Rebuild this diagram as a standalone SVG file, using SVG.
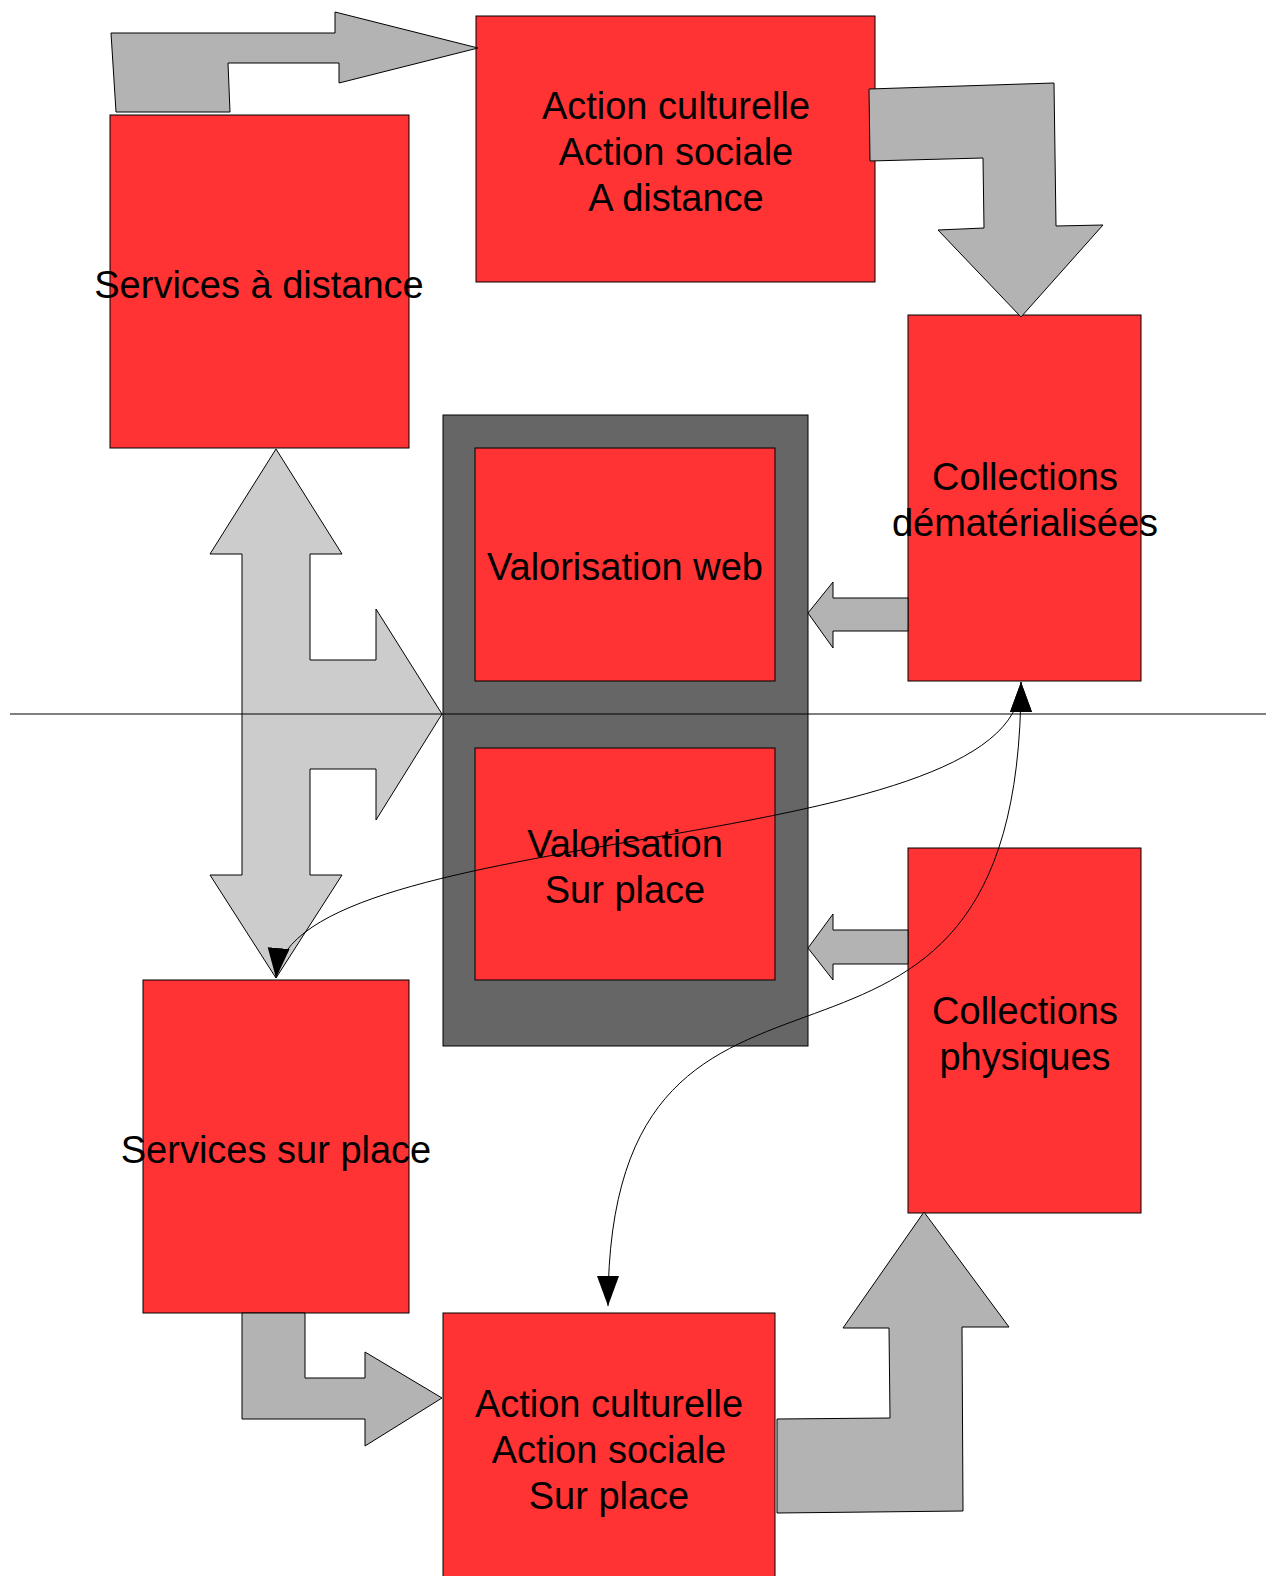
<svg xmlns="http://www.w3.org/2000/svg" width="1266" height="1576" viewBox="0 0 1266 1576">
<style>
.box{fill:#ff3333;stroke:#000;stroke-width:1}
.frame{fill:#666666;stroke:#000;stroke-width:1}
.blk{fill:#b3b3b3;stroke:#000;stroke-width:1;stroke-linejoin:miter}
.blk2{fill:#cccccc;stroke:#000;stroke-width:1}
.lbl{font-family:"Liberation Sans",Arial,sans-serif;font-size:38px;fill:#000;text-anchor:middle}
.curve{fill:none;stroke:#000;stroke-width:1}
</style>
<defs>
<marker id="ah" markerUnits="userSpaceOnUse" markerWidth="32" markerHeight="24" refX="30" refY="11" orient="auto-start-reverse" viewBox="0 0 32 24">
<path d="M0,0 L30,11 L0,22 z" fill="#000"/>
</marker>
</defs>
<rect width="1266" height="1576" fill="#fff"/>

<g id="node-valorisation-frame">
<rect class="frame" x="443" y="415" width="365" height="631"/>
</g>
<g id="node-valorisation-web">
<rect class="box" x="475" y="448" width="300" height="233"/>
<text class="lbl" x="625" y="580">Valorisation web</text>
</g>
<g id="node-valorisation-sur-place">
<rect class="box" x="475" y="748" width="300" height="232"/>
<text class="lbl" x="625" y="857">Valorisation</text>
<text class="lbl" x="625" y="903">Sur place</text>
</g>
<g id="node-services-distance">
<rect class="box" x="110" y="115" width="299" height="333"/>
<text class="lbl" x="259" y="298">Services à distance</text>
</g>
<g id="node-action-distance">
<rect class="box" x="476" y="16" width="399" height="266"/>
<text class="lbl" x="676" y="119">Action culturelle</text>
<text class="lbl" x="676" y="165">Action sociale</text>
<text class="lbl" x="676" y="211">A distance</text>
</g>
<g id="node-collections-dematerialisees">
<rect class="box" x="908" y="315" width="233" height="366"/>
<text class="lbl" x="1025" y="490">Collections</text>
<text class="lbl" x="1025" y="536">dématérialisées</text>
</g>
<g id="node-collections-physiques">
<rect class="box" x="908" y="848" width="233" height="365"/>
<text class="lbl" x="1025" y="1024">Collections</text>
<text class="lbl" x="1025" y="1070">physiques</text>
</g>
<g id="node-services-sur-place">
<rect class="box" x="143" y="980" width="266" height="333"/>
<text class="lbl" x="276" y="1163">Services sur place</text>
</g>
<g id="node-action-sur-place">
<rect class="box" x="443" y="1313" width="332" height="280"/>
<text class="lbl" x="609" y="1417">Action culturelle</text>
<text class="lbl" x="609" y="1463">Action sociale</text>
<text class="lbl" x="609" y="1509">Sur place</text>
</g>

<g id="connectors">
<polygon class="blk" points="111,33 335,33 335,12 478,48 339,83 339,63 228,63 230,112 116,112"/>
<polygon class="blk" points="869,89 1054,83 1056,226 1103,225 1021,317 938,230 984,228 983,158 870,161"/>
<polygon class="blk2" points="276,449 342,554 310,554 310,660 376,660 376,609 442,714 376,820 376,769 310,769 310,875 342,875 276,978 210,875 242,875 242,554 210,554"/>
<polygon class="blk" points="908,598 833,598 833,582 808,613 833,648 833,631 908,631"/>
<polygon class="blk" points="908,930 833,930 833,914 808,948 833,980 833,964 908,964"/>
<polygon class="blk" points="242,1313 305,1313 305,1378 365,1378 365,1352 442,1398 365,1446 365,1419 242,1419"/>
<polygon class="blk" points="924,1212 1009,1327 962,1327 963,1511 777,1513 777,1419 890,1418 889,1328 843,1328"/>
<line x1="10" y1="714" x2="1266" y2="714" stroke="#000" stroke-width="1.2"/>
<path class="curve" d="M1021,682 C1021,860 290,820 276,978" marker-start="url(#ah)" marker-end="url(#ah)"/>
<path class="curve" d="M1021,682 C1021,1180 608,860 608,1306" marker-start="url(#ah)" marker-end="url(#ah)"/>
</g>
</svg>
